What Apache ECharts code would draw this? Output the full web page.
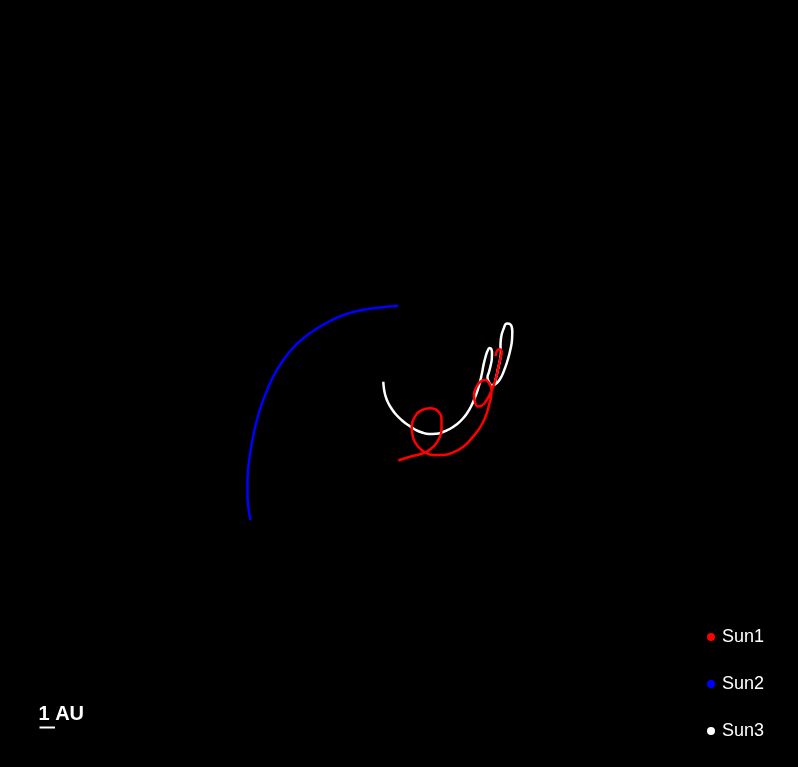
<!DOCTYPE html>
<html>
<head>
<meta charset="utf-8">
<script src="https://cdn.jsdelivr.net/npm/echarts@6/dist/echarts.min.js"></script>
<style>
html,body{margin:0;padding:0;background:#000;}
#chart{width:798px;height:767px;}
</style>
</head>
<body>
<div id="chart"></div>
<script>
// Positions in AU (x, y)
const seriesNames = ['Sun1', 'Sun2', 'Sun3'];
const seriesColors = ['#ff0000', '#0000ff', '#ffffff'];

const sun1 = [
  [-0.045,-4.968],[0.710,-4.723],[1.355,-4.568],[1.806,-4.387],[2.213,-4.077],[2.535,-3.645],
  [2.742,-3.000],[2.742,-2.355],[2.535,-1.819],[2.000,-1.600],[1.465,-1.710],[1.032,-2.142],
  [0.819,-2.787],[0.923,-3.535],[1.245,-4.077],[1.677,-4.439],[2.213,-4.613],[2.858,-4.613],
  [3.503,-4.439],[4.148,-4.077],[4.690,-3.535],[5.116,-3.000],[5.439,-2.465],[5.658,-1.923],
  [5.806,-1.387],[5.935,-0.871],[5.968,-0.419],[5.806,0.032],[5.548,0.226],[5.226,0.097],
  [4.968,-0.290],[4.839,-0.742],[4.903,-1.194],[5.097,-1.484],[5.355,-1.419],[5.613,-1.129],
  [5.839,-0.742],[6.065,-0.226],[6.258,0.355],[6.387,0.935],[6.516,1.516],[6.613,1.968],
  [6.581,2.194],[6.419,2.194],[6.290,2.032],[6.226,1.774]
];

const sun2 = [
  [-0.045,5.019],[-1.226,4.903],[-2.323,4.742],[-3.484,4.452],[-4.452,4.032],[-5.355,3.516],
  [-6.194,2.903],[-6.903,2.226],[-7.548,1.387],[-8.129,0.419],[-8.581,-0.613],[-9.000,-1.774],
  [-9.323,-3.000],[-9.548,-4.161],[-9.710,-5.323],[-9.774,-6.290],[-9.774,-7.194],[-9.710,-8.032],
  [-9.581,-8.806]
];

const sun3 = [
  [-1.013,0.116],[-0.968,-0.355],[-0.871,-0.806],[-0.710,-1.226],[-0.484,-1.613],[-0.194,-2.000],
  [0.161,-2.355],[0.581,-2.677],[1.032,-2.968],[1.484,-3.161],[1.935,-3.258],[2.387,-3.245],
  [2.839,-3.129],[3.290,-2.923],[3.710,-2.645],[4.097,-2.290],[4.419,-1.871],[4.677,-1.419],
  [4.871,-0.968],[5.065,-0.452],[5.226,0.097],[5.355,0.677],[5.452,1.194],[5.581,1.710],
  [5.710,2.097],[5.839,2.290],[5.955,2.226],[6.000,1.968],[5.987,1.581],[5.903,1.129],
  [5.806,0.742],[5.710,0.387],[5.806,0.097],[5.968,-0.097],[6.129,-0.065],[6.258,0.355],
  [6.387,0.935],[6.516,1.516],[6.581,2.032],[6.548,2.419],[6.581,2.935],[6.742,3.516],
  [6.968,3.871],[7.194,3.806],[7.310,3.387],[7.290,2.806],[7.194,2.226],[7.032,1.581],
  [6.839,1.000],[6.613,0.452],[6.355,0.065],[6.129,-0.097]
];

const scaleLabel = '1 AU';
const scaleLength = 1; // AU

const chart = echarts.init(document.getElementById('chart'), null, {renderer: 'canvas'});
const fontFam = '"Liberation Sans", Arial, Helvetica, sans-serif';

const option = {
  backgroundColor: '#000000',
  animation: false,
  grid: {left: 0, right: 0, top: 0, bottom: 0},
  xAxis: {type: 'value', min: -25.742, max: 25.742, show: false},
  yAxis: {type: 'value', min: -24.742, max: 24.742, show: false},
  legend: {
    data: seriesNames,
    orient: 'vertical',
    left: 707,
    top: 628,
    padding: 0,
    icon: 'circle',
    itemWidth: 8,
    itemHeight: 8,
    itemGap: 29,
    itemStyle: {borderWidth: 0},
    textStyle: {color: '#ffffff', fontSize: 18, fontFamily: fontFam, padding: [0, 0, 0, 2]}
  },
  series: [
    {name: 'Sun1', type: 'line', data: sun1, showSymbol: false, smooth: 0.5, z: 4,
     lineStyle: {color: seriesColors[0], width: 2.5}, itemStyle: {color: seriesColors[0]}},
    {name: 'Sun2', type: 'line', data: sun2, showSymbol: false, smooth: 0.5, z: 2,
     lineStyle: {color: seriesColors[1], width: 2.5}, itemStyle: {color: seriesColors[1]}},
    {name: 'Sun3', type: 'line', data: sun3, showSymbol: false, smooth: 0.5, z: 3,
     lineStyle: {color: seriesColors[2], width: 2.5}, itemStyle: {color: seriesColors[2]}}
  ]
};
chart.setOption(option);

// scale bar computed from the axes
const p0 = chart.convertToPixel({gridIndex: 0}, [0, 0]);
const p1 = chart.convertToPixel({gridIndex: 0}, [scaleLength, 0]);
const barLen = Math.abs(p1[0] - p0[0]);
const barX = 39.5, barY = 727.5;
chart.setOption({
  graphic: [
    {type: 'line', shape: {x1: barX, y1: barY, x2: barX + barLen, y2: barY},
     style: {stroke: '#ffffff', lineWidth: 2}},
    {type: 'text', left: barX - 1, top: 704,
     style: {text: scaleLabel, fill: '#ffffff', font: 'bold 20px ' + fontFam}}
  ]
});
</script>
</body>
</html>
